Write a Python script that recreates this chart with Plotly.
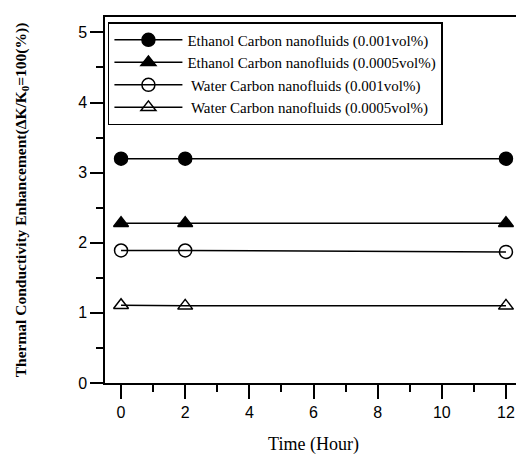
import plotly.graph_objects as go

hours = [0, 2, 12]
ethanol_001 = [3.2, 3.2, 3.2]
ethanol_0005 = [2.28, 2.28, 2.28]
water_001 = [1.89, 1.89, 1.87]
water_0005 = [1.11, 1.10, 1.10]

names = [
    "Ethanol Carbon nanofluids (0.001vol%)",
    "Ethanol Carbon nanofluids (0.0005vol%)",
    " Water Carbon nanofluids (0.001vol%)",
    " Water Carbon nanofluids (0.0005vol%)",
]
series = [ethanol_001, ethanol_0005, water_001, water_0005]
symbols = ["circle", "triangle-up", "circle-open", "triangle-up-open"]
sizes = [13, 13, 13, 13]

SERIF = "Liberation Serif, Times New Roman, Times, serif"
SANS = "Liberation Sans, Arial, sans-serif"

fig = go.Figure()
for n, s, sym, sz in zip(names, series, symbols, sizes):
    fig.add_trace(go.Scatter(
        x=hours, y=s, name=n, mode="lines+markers",
        line=dict(color="black", width=1.5),
        marker=dict(symbol=sym, size=sz, color="black",
                    line=dict(color="black", width=1.5)),
    ))

# page body has an 8px margin; figure sized/margined to compensate
fig.update_layout(
    width=516, height=447,
    margin=dict(l=97, r=2, t=9, b=72),
    paper_bgcolor="white", plot_bgcolor="white",
    showlegend=True,
    legend=dict(
        x=0.007, y=0.986, xanchor="left", yanchor="top",
        bordercolor="black", borderwidth=1.5, bgcolor="white",
        font=dict(family=SERIF, size=15, color="black"),
        itemwidth=68, tracegroupgap=0,
    ),
    xaxis=dict(
        range=[-0.5, 12.5], tickvals=[0, 2, 4, 6, 8, 10, 12],
        ticks="outside", ticklen=14, tickwidth=1.5, tickcolor="black",
        minor=dict(tickvals=[1, 3, 5, 7, 9, 11], ticks="outside", ticklen=7,
                   tickwidth=1.5, tickcolor="black"),
        showline=True, linecolor="black", linewidth=1.5, mirror=True,
        showgrid=False, zeroline=False, automargin=False,
        tickfont=dict(family=SANS, size=16, color="black"),
        title=dict(text="Time (Hour)", standoff=21,
                   font=dict(family=SERIF, size=18, color="black")),
    ),
    yaxis=dict(
        range=[0, 5.22], tickvals=[0, 1, 2, 3, 4, 5],
        ticks="outside", ticklen=13, tickwidth=1.5, tickcolor="black",
        minor=dict(tickvals=[0.5, 1.5, 2.5, 3.5, 4.5], ticks="outside", ticklen=7,
                   tickwidth=1.5, tickcolor="black"),
        showline=True, linecolor="black", linewidth=1.5, mirror=True,
        showgrid=False, zeroline=False, automargin=False,
        tickfont=dict(family=SANS, size=16, color="black"),
        title=dict(text="<b>Thermal Conductivity Enhancement(\u0394K/K<sub>0</sub>=100(%))</b>",
                   standoff=48,
                   font=dict(family=SERIF, size=15.5, color="black")),
    ),
)

fig.write_html("out.html")
